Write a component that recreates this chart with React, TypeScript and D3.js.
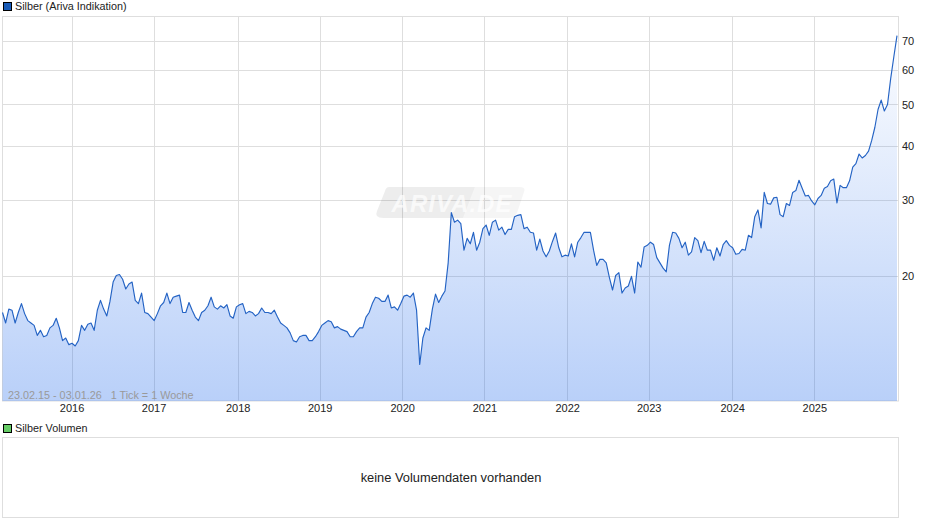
import React from "react";
import * as d3 from "d3";

// Silver price, one value every two weeks, split by the year it falls in
const prices2015 = [16.5,15.6,16.8,16.7,15.6,16.5,17.3,16.4,15.8,15.6,15.4,14.6,15.0,14.5,14.6,15.2,15.4,16.0,15.2,14.2,14.4,13.9];
const prices2016 = [14.0,13.8,14.2,15.4,15.0,15.5,15.6,15.0,16.7,17.6,16.8,16.2,17.5,19.4,20.1,20.2,19.7,18.7,19.2,19.4,17.6,17.3,18.3,16.5,16.4,16.1];
const prices2017 = [15.8,16.4,17.1,17.4,18.3,17.3,17.9,18.0,18.1,16.5,16.5,17.4,16.7,16.1,15.8,16.5,16.7,17.1,17.9,17.0,16.8,17.1,16.9,17.2,16.2,16.0,17.0];
const prices2018 = [17.2,17.3,16.4,16.6,16.5,16.2,16.4,16.9,16.5,16.5,16.4,16.7,16.1,15.6,15.4,15.2,14.8,14.2,14.1,14.5,14.6,14.6,14.2,14.2,14.5,14.9];
const prices2019 = [15.4,15.6,15.8,15.7,15.2,15.3,15.1,15.0,14.9,14.5,14.5,14.9,15.2,15.2,16.1,16.5,17.3,17.9,17.8,17.5,17.5,18.1,16.9,17.0,16.7,17.3];
const prices2020 = [18.0,18.1,17.9,18.3,16.7,12.5,14.4,15.2,15.0,16.8,18.2,17.4,18.0,18.5,21.5,28.1,26.7,27.0,26.5,23.0,24.5,23.8,25.3,23.0,24.0,25.8];
const prices2021 = [26.3,24.9,26.7,27.0,25.6,26.0,25.0,25.7,25.7,27.5,27.7,27.8,25.8,26.0,25.3,25.2,23.0,24.4,22.9,22.2,22.9,24.1,25.2,23.3,22.2,22.4];
const prices2022 = [22.3,23.8,22.2,24.0,24.6,25.3,25.3,25.3,23.0,21.2,21.9,21.9,21.5,19.9,18.6,20.1,20.4,18.3,18.8,19.0,20.0,18.3,21.6,21.0,23.4,23.6];
const prices2023 = [24.0,23.7,22.1,21.5,20.9,20.5,23.6,25.3,25.2,24.5,23.3,24.0,22.4,22.8,24.6,24.2,22.7,24.1,23.0,23.0,21.8,23.3,22.3,23.7,24.2,23.6];
const prices2024 = [23.3,22.5,22.6,23.1,23.0,24.9,24.6,27.5,28.5,25.9,31.3,29.5,29.4,30.4,30.5,27.8,27.5,29.5,29.2,31.3,31.6,33.4,32.0,30.7,30.8,29.9];
const prices2025 = [29.3,30.3,30.8,32.0,32.3,33.3,33.6,29.6,32.5,32.1,32.1,33.3,35.8,36.5,38.4,37.6,38.1,39.0,41.3,44.3,48.7,51.2,48.3,50.0,57.4,64.5,72.2];

const yearLabels = ["2016","2017","2018","2019","2020","2021","2022","2023","2024","2025"];
const yearWeeks = [44.0,95.9,149.1,201.0,253.2,305.3,357.6,409.2,462.0,514.0];
const priceTicks = [20,30,40,50,60,70];
const weeksPerSample = 2;

const series = [prices2015,prices2016,prices2017,prices2018,prices2019,prices2020,prices2021,prices2022,prices2023,prices2024,prices2025].flat();
const points = series.map((p, i) => ({ week: i * weeksPerSample, price: p }));

const L = 2.5, R = 898.5, T = 16.5, B = 401;
const FONT = '"Liberation Sans", Arial, sans-serif';
const GRID = "#dedede";

export default function App() {
  const x = d3.scaleLinear().domain([0, 566]).range([L, 897]);
  const y = d3.scaleLog().domain([10.27, 80]).range([B + 0.4, 16.4]);
  const line = d3.line<{week:number;price:number}>().x(d => x(d.week)).y(d => y(d.price));
  const area = d3.area<{week:number;price:number}>().x(d => x(d.week)).y0(B).y1(d => y(d.price));
  const crisp = (v: number) => Math.round(v - 0.5) + 0.5;
  return (
    <svg width={940} height={526} style={{ position: "absolute", left: 0, top: 0 }} fontFamily={FONT}>
      <defs>
        <linearGradient id="fillGrad" gradientUnits="userSpaceOnUse" x1="0" y1={T} x2="0" y2={B}>
          <stop offset="0" stopColor="#1a65eb" stopOpacity={0} />
          <stop offset="1" stopColor="#1a65eb" stopOpacity={0.306} />
        </linearGradient>
      </defs>
      <rect x={3.5} y={2.5} width={8} height={8} fill="#1a5cb8" stroke="#000" strokeWidth={1} />
      <text x={15} y={9.5} fontSize={10.8} fill="#222">Silber (Ariva Indikation)</text>

      <rect x={L} y={T} width={R - L} height={B - T} fill="#fff" stroke={GRID} />
      {yearWeeks.map((w, i) => (
        <line key={yearLabels[i]} x1={crisp(x(w))} x2={crisp(x(w))} y1={T} y2={B} stroke={GRID} />
      ))}
      {priceTicks.map(p => (
        <line key={p} x1={L} x2={R} y1={crisp(y(p))} y2={crisp(y(p))} stroke={GRID} />
      ))}

      <g transform="translate(377,187)">
        <path d="M12,0 H98 L86,31 H6 Q-3,31 0,24 L8,4 Q9,0 12,0 Z" fill="#000" opacity={0.07} />
        <path d="M98,0 H143 Q149,0 147,5 L140,26 Q138,31 132,31 H86 Z" fill="#000" opacity={0.04} />
        <text x={75} y={24.5} textAnchor="middle" fontSize={24} fontStyle="italic" fontWeight="bold" fill="#fff" opacity={0.7} letterSpacing={1}>ARIVA.DE</text>
      </g>

      <path d={area(points) ?? ""} fill="url(#fillGrad)" />
      <path d={line(points) ?? ""} fill="none" stroke="#2463c4" strokeWidth={1.15} strokeLinejoin="round" />

      {priceTicks.map(p => (
        <text key={p} x={902} y={y(p) + 4} fontSize={11} fill="#222">{p}</text>
      ))}
      {yearWeeks.map((w, i) => (
        <text key={yearLabels[i]} x={x(w)} y={412} fontSize={11} fill="#222" textAnchor="middle">{yearLabels[i]}</text>
      ))}
      <text x={8} y={399} fontSize={10.8} fill="#999" xmlSpace="preserve">23.02.15 - 03.01.26   1 Tick = 1 Woche</text>

      <rect x={3.5} y={424.5} width={8} height={8} fill="#66cc66" stroke="#000" strokeWidth={1} />
      <text x={15} y={432} fontSize={10.8} fill="#222">Silber Volumen</text>
      <rect x={L} y={437.5} width={R - L} height={80} fill="#fff" stroke={GRID} />
      <text x={451} y={482} fontSize={12.85} fill="#222" textAnchor="middle">keine Volumendaten vorhanden</text>
    </svg>
  );
}
